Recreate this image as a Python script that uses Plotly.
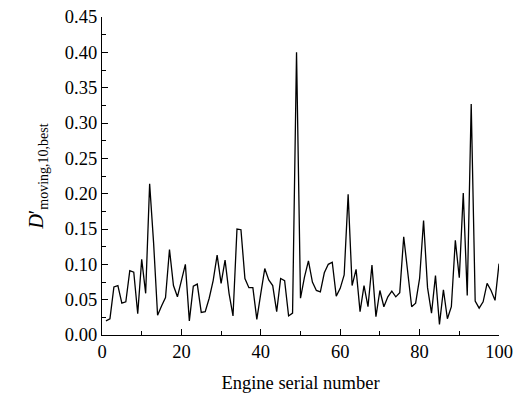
import plotly.graph_objects as go

engine_no = list(range(1, 101))
d_values = [
    0.020, 0.023, 0.068, 0.070, 0.045, 0.047, 0.091, 0.089, 0.030, 0.107,
    0.059, 0.214, 0.130, 0.028, 0.041, 0.053, 0.121, 0.070, 0.054, 0.078,
    0.100, 0.020, 0.069, 0.072, 0.032, 0.033, 0.052, 0.077, 0.113, 0.073,
    0.106, 0.059, 0.027, 0.150, 0.149, 0.080, 0.067, 0.067, 0.022, 0.059,
    0.094, 0.078, 0.070, 0.033, 0.080, 0.077, 0.027, 0.031, 0.400, 0.052,
    0.082, 0.105, 0.075, 0.063, 0.061, 0.088, 0.100, 0.103, 0.055, 0.066,
    0.085, 0.199, 0.070, 0.093, 0.033, 0.070, 0.040, 0.099, 0.026, 0.063,
    0.040, 0.054, 0.062, 0.054, 0.060, 0.139, 0.092, 0.040, 0.045, 0.080,
    0.162, 0.067, 0.031, 0.084, 0.015, 0.064, 0.023, 0.040, 0.134, 0.081,
    0.201, 0.056, 0.327, 0.048, 0.038, 0.047, 0.073, 0.063, 0.049, 0.101,
]
x_ticks = [0, 20, 40, 60, 80, 100]
y_ticks = [0.00, 0.05, 0.10, 0.15, 0.20, 0.25, 0.30, 0.35, 0.40, 0.45]

font_family = "Liberation Serif, Times New Roman, serif"

fig = go.Figure()
fig.add_trace(go.Scatter(
    x=engine_no, y=d_values, mode="lines",
    line=dict(color="black", width=1.3),
    showlegend=False,
))

fig.update_layout(
    width=527, height=393,
    margin=dict(l=102, r=28, t=17, b=58),
    paper_bgcolor="white", plot_bgcolor="white",
    font=dict(family=font_family, size=18, color="black"),
)
fig.update_xaxes(
    range=[0, 100], tickvals=x_ticks, ticktext=[str(v) for v in x_ticks],
    ticks="inside", ticklen=6, tickwidth=1, tickcolor="black",
    minor=dict(dtick=10, tick0=0, ticks="inside", ticklen=4, tickcolor="black"),
    showline=True, linecolor="black", linewidth=1.2,
    showgrid=False, zeroline=False, automargin=False,
    title=dict(text="Engine serial number", font=dict(size=18.5)),
    tickfont=dict(size=18.5),
)
fig.update_yaxes(
    range=[0, 0.45], tickvals=y_ticks, ticktext=[f"{v:.2f}" for v in y_ticks],
    ticks="inside", ticklen=6, tickwidth=1, tickcolor="black",
    minor=dict(dtick=0.025, tick0=0, ticks="inside", ticklen=4, tickcolor="black"),
    showline=True, linecolor="black", linewidth=1.2,
    showgrid=False, zeroline=False, automargin=False,
    title=dict(text="<i>D</i>′<sub>moving,10,best</sub>", font=dict(size=20)),
    tickfont=dict(size=18.5),
)

fig.write_html("out.html")
